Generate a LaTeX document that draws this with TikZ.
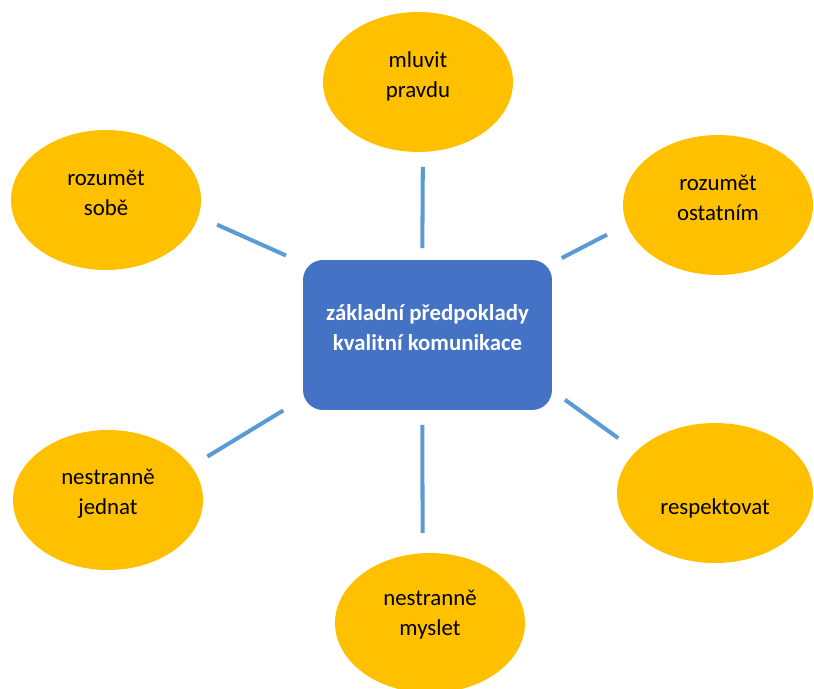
\documentclass[tikz,border=0pt]{standalone}
\usepackage{fontspec}
\setmainfont{Carlito}
\usetikzlibrary{shapes.geometric,positioning}
\definecolor{gold}{HTML}{FFC000}
\definecolor{hubblue}{HTML}{4472C4}
\definecolor{linkblue}{HTML}{5B9BD5}

\begin{document}
\begin{tikzpicture}[x=0.02cm,y=-0.02cm,
  bubble/.style={ellipse,fill=gold,minimum width=3.8cm,minimum height=2.8cm,inner sep=0pt,outer sep=0pt},
  hub/.style={rectangle,rounded corners=0.4cm,fill=hubblue,minimum width=4.98cm,minimum height=3cm,inner sep=0pt,outer sep=0pt},
  txt/.style={align=center,font=\fontsize{13}{17}\selectfont},
  hubtxt/.style={txt,text=white,font=\fontsize{13}{17}\selectfont\bfseries},
  link/.style={draw=linkblue,line width=2.3pt}]
			 \useasboundingbox (0,0) rectangle (814,689);
			 % middle box
			 \node[hub] (hub) at (427.5,335) {};
			 \node[hubtxt] (hubtext) at ([yshift=0.15cm]hub) {základní předpoklady\\kvalitní komunikace};
			 % bubbles round it
			 \node[bubble] (pravda) at (418,82) {};
			 \node[txt] (pravdatext) at ([yshift=0.12cm]pravda) {mluvit\\pravdu};
			 \node[bubble] (sobe) at (106,200) {};
			 \node[txt] (sobetext) at ([yshift=0.14cm]sobe) {rozumět\\sobě};
			 \node[bubble] (ostatnim) at (718,205) {};
			 \node[txt] (ostatnimtext) at ([yshift=0.14cm]ostatnim) {rozumět\\ostatním};
			 \node[bubble] (jednat) at (108,500) {};
			 \node[txt] (jednattext) at ([yshift=0.13cm]jednat) {nestranně\\jednat};
			 \node[bubble,minimum width=3.92cm] (respekt) at (715,493) {};
			 \node[txt] (respekttext) at ([yshift=-0.3cm]respekt) {respektovat};
			 \node[bubble] (myslet) at (430,623) {};
			 \node[txt] (myslettext) at ([yshift=0.16cm]myslet) {nestranně\\myslet};
			 % spokes
			 \draw[link,shorten <=0.24cm,shorten >=0.3cm] (hub.94.2) -- (pravda.-86.7);
			 \draw[link,shorten <=0.374cm,shorten >=0.41cm] (hub.150.6) -- (sobe.-10.1);
			 \draw[link,shorten <=0.22cm,shorten >=0.446cm] (hub.30.8) -- (ostatnim.192.8);
			 \draw[link,shorten <=0.462cm,shorten >=0.378cm] (hub.207.7) -- (jednat.22.7);
			 \draw[link,shorten <=0.32cm,shorten >=0.448cm] (hub.-24.1) -- (respekt.152);
			 \draw[link,shorten <=0.3cm,shorten >=0.405cm] (hub.-94.2) -- (myslet.96.5);
\end{tikzpicture}
\end{document}
